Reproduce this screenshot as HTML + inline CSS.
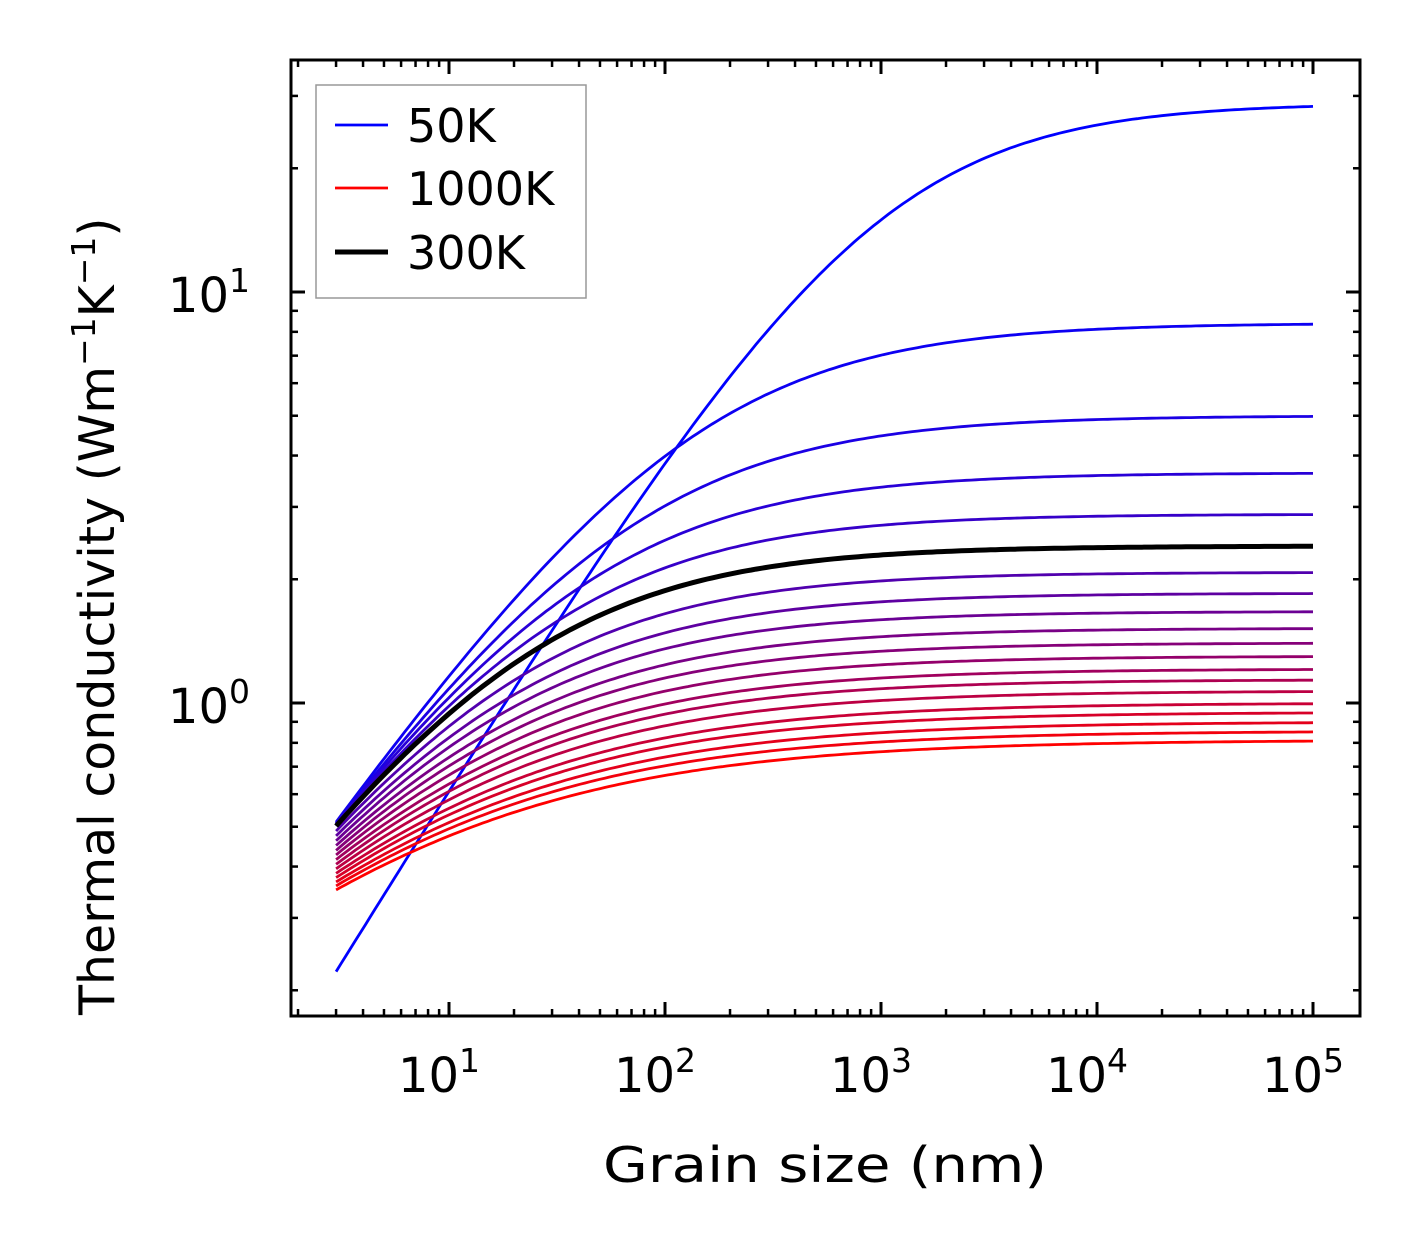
<!DOCTYPE html>
<html><head><meta charset="utf-8"><style>
html,body{margin:0;padding:0;background:#fff}
svg{display:block;font-family:"DejaVu Sans","Liberation Sans",sans-serif}
</style></head><body>
<svg id="chart" width="1421" height="1254" viewBox="0 0 1421 1254" xmlns="http://www.w3.org/2000/svg">
<g id="curves"></g>
<rect x="291" y="60" width="1069" height="956" fill="none" stroke="#000" stroke-width="3"/>
<g id="ticks"></g>
<text x="825" y="1182" font-size="49" text-anchor="middle" textLength="444" lengthAdjust="spacingAndGlyphs">Grain size (nm)</text>
<text transform="translate(114,1015) rotate(-90)" font-size="49">Thermal conductivity (Wm<tspan font-size="33" dy="-19">−1</tspan><tspan dy="19">K</tspan><tspan font-size="33" dy="-19">−1</tspan><tspan dy="19">)</tspan></text>
<g>
<rect x="316" y="85" width="270" height="213" fill="#fff" stroke="#999" stroke-width="1.5"/>
<line x1="335" y1="125" x2="388" y2="125" stroke="#0000ff" stroke-width="2.8"/>
<text x="407" y="142" font-size="46">50K</text>
<line x1="335" y1="188" x2="388" y2="188" stroke="#ff0000" stroke-width="2.8"/>
<text x="407" y="205" font-size="46">1000K</text>
<line x1="335" y1="252" x2="388" y2="252" stroke="#000" stroke-width="5"/>
<text x="407" y="269" font-size="46">300K</text>
</g>
</svg>
<script>
const temps = [50,100,150,200,250,300,350,400,450,500,550,600,650,700,750,800,850,900,950,1000];
const kStart = [0.222,0.513,0.51,0.508,0.505,0.502,0.488,0.475,0.462,0.45,0.438,0.427,0.416,0.405,0.395,0.385,0.376,0.367,0.359,0.351];
const kEnd = [28.8,8.4,5.0,3.63,2.88,2.41,2.08,1.85,1.67,1.52,1.40,1.30,1.21,1.14,1.07,1.0,0.95,0.90,0.855,0.813];
const shapeP = [0.85,0.75,0.74,0.74,0.74,0.74,0.72,0.70,0.69,0.67,0.66,0.64,0.62,0.61,0.59,0.57,0.56,0.54,0.53,0.51];
const xMajor = [1,2,3,4,5];
const yMajor = [0,1];
const xMin = 3, xMax = 1e5;
const NS='http://www.w3.org/2000/svg';
function sx(v){return 233+216*Math.log10(v);}
function sy(v){return 703-411*Math.log10(v);}
function mk(tag,attrs,parent){const e=document.createElementNS(NS,tag);for(const k in attrs)e.setAttribute(k,attrs[k]);parent.appendChild(e);return e;}
const cg=document.getElementById('curves');
function curvePath(i){
  const a=kEnd[i]/kStart[i]-1, p=shapeP[i];
  let d='';
  for(let j=0;j<=200;j++){
    const lx=Math.log10(xMin)+(Math.log10(xMax)-Math.log10(xMin))*j/200;
    const L=Math.pow(10,lx);
    const k=kEnd[i]/(1+a*Math.pow(xMin/L,p));
    d+=(j?'L':'M')+sx(L).toFixed(1)+' '+sy(k).toFixed(1);
  }
  return d;
}
temps.forEach((t,i)=>{
  const f=i/(temps.length-1);
  const col='rgb('+Math.round(255*f)+',0,'+Math.round(255*(1-f))+')';
  const p=mk('path',{d:curvePath(i),fill:'none',stroke:col,'stroke-width':2.8},cg);
  
  
});
const bi=temps.indexOf(300);
const bp=mk('path',{d:curvePath(bi),fill:'none',stroke:'#000','stroke-width':5},cg);


const tg=document.getElementById('ticks');
function tick(x1,y1,x2,y2,w){const l=mk('line',{x1,y1,x2,y2,stroke:'#000','stroke-width':w},tg);

}
for(let e=0;e<=5;e++){for(let m=1;m<10;m++){const v=m*Math.pow(10,e);const x=sx(v);if(x<292||x>1359)continue;
 const len=m===1?14:7, w=m===1?3:2.5;tick(x,1016,x,1016-len,w);tick(x,60,x,60+len,w);}}
xMajor.forEach(e=>{const t=mk('text',{x:sx(Math.pow(10,e))-10,y:1092,'font-size':48,'text-anchor':'middle'},tg);
 
 
 t.innerHTML='10<tspan font-size="33" dy="-20">'+e+'</tspan>';});
for(let e=-1;e<=1;e++){for(let m=1;m<10;m++){const v=m*Math.pow(10,e);const y=sy(v);if(y<61||y>1015)continue;
 const len=m===1?14:7, w=m===1?3:2.5;tick(291,y,291+len,y,w);tick(1360,y,1360-len,y,w);}}
yMajor.forEach(e=>{const t=mk('text',{x:250,y:sy(Math.pow(10,e))+20,'font-size':48,'text-anchor':'end'},tg);
 
 
 t.innerHTML='10<tspan font-size="33" dy="-20">'+e+'</tspan>';});
</script>
</body></html>
